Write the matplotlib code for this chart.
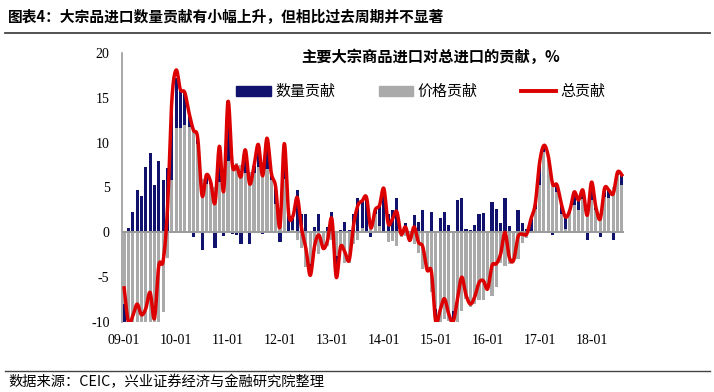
import numpy as np
import pandas as pd
import matplotlib
matplotlib.use("Agg")
import matplotlib.pyplot as plt
from matplotlib.patches import Patch
from matplotlib.lines import Line2D

# ---------------- data (monthly, 2009-01 .. 2018-08) ----------------
start_month = "2009-01"
quantity = [  # 数量贡献
    -2.3, 0.5, 2.3, 4.7, 4.0, 7.3, 8.9, 5.3, 7.9, 5.8, 7.2, 8.8,
    5.6, 4.3, 3.6, 1.4, -0.5, 0.6, -2.0, 1.0, 0.4, -1.7, 4.0, -0.4,
    6.7, -0.2, -0.3, -1.3, 2.6, -1.3, 0.8, 2.5, -0.2, 3.4, 0.8, 1.9,
    -1.1, 4.0, 1.9, 1.5, 4.7, 2.1, 2.1, -1.3, 0.6, 2.1, 0.2, 0.6,
    2.3, -2.4, 0.3, 1.2, 0.3, 2.1, 3.8, 3.0, 3.9, -0.5, 0.5, 2.3,
    4.9, 2.1, 2.5, 3.8, 0.3, 1.0, 0.2, 1.9, 1.2, 2.5, 0.2, 2.3,
    -1.5, 1.6, 2.3, 0.8, -1.2, 3.6, 3.8, 0.4, 0.3, 0.8, 2.0, 2.2,
    0.0, 3.4, 2.6, 1.0, 3.8, 0.7, 0.2, 2.5, 1.0, 0.4, 1.3, 0.6,
    2.5, 0.7, 0.2, -0.3, 0.8, 1.2, 1.3, 0.3, 1.5, 1.1, 1.0, -0.9,
    2.0, 0.3, -0.5, 1.0, 0.9, -0.8, 0.3, 1.1,
]
price = [  # 价格贡献
    -8.0, -10.6, -11.6, -12.5, -13.0, -14.0, -14.0, -14.0, -11.6, -8.9, -2.9, 5.8,
    11.6, 11.6, 12.0, 11.8, 11.6, 9.9, 5.9, 5.4, 5.4, 5.0, 5.6, 5.0,
    7.9, 7.7, 7.7, 7.5, 6.6, 6.7, 6.6, 7.3, 6.5, 7.1, 5.8, 3.2,
    1.7, 5.9, 0.2, 0.3, -0.8, -1.7, -3.9, -3.5, -2.1, -2.4, -2.0, -1.5,
    -0.8, -2.6, -1.9, -3.4, -3.4, -1.3, -0.8, 0.5, 0.0, 1.0, 2.0, 0.7,
    0.0, -1.1, -1.0, -1.5, -0.5, -0.4, -1.1, -1.3, -2.3, -4.1, -4.4, -6.7,
    -8.5, -10.3, -9.7, -9.9, -8.8, -11.1, -8.8, -7.4, -8.3, -8.0, -7.6, -7.6,
    -6.3, -7.1, -6.1, -3.4, -3.8, -3.5, -3.3, -3.0, -1.2, -0.6, 0.2, 2.6,
    5.3, 9.0, 8.3, 5.7, 4.5, 2.0, 0.4, 2.2, 3.0, 2.5, 3.7, 2.8,
    3.6, 2.5, 2.0, 3.9, 3.8, 5.1, 6.4, 5.3,
]
total = [  # 总贡献
    -6.2, -10.1, -9.3, -8.0, -9.2, -8.5, -6.7, -9.6, -3.7, -3.2, 2.5, 14.6,
    18.1, 15.9, 15.6, 13.3, 11.4, 10.5, 4.1, 6.4, 5.6, 3.3, 9.6, 4.6,
    14.6, 7.5, 7.4, 6.2, 9.2, 5.4, 7.4, 9.8, 6.3, 10.5, 6.6, 5.1,
    0.6, 9.9, 2.1, 1.8, 3.9, 0.4, -1.8, -4.8, -1.5, -0.3, -1.8, -0.9,
    1.5, -5.0, -1.6, -2.2, -3.1, 0.8, 3.0, 3.5, 3.9, 0.5, 2.5, 3.0,
    4.9, 1.0, 1.5, 2.3, -0.2, 0.6, -0.9, 0.6, -1.1, -1.6, -4.2, -4.4,
    -10.0, -8.7, -7.4, -9.1, -10.0, -7.5, -5.0, -7.0, -8.0, -7.2, -5.6, -5.4,
    -6.3, -3.7, -3.5, -2.4, 0.0, -2.8, -3.1, -0.5, -0.2, -0.2, 1.5, 3.2,
    7.8, 9.7, 8.5, 5.4, 5.3, 3.2, 1.7, 2.5, 4.5, 3.6, 4.7, 1.9,
    5.6, 2.8, 1.5, 4.9, 4.7, 4.3, 6.7, 6.4,
]
tick_labels = ["09-01", "10-01", "11-01", "12-01", "13-01",
               "14-01", "15-01", "16-01", "17-01", "18-01"]
legend_labels = ["数量贡献", "价格贡献", "总贡献"]
title = "图表4：大宗品进口数量贡献有小幅上升，但相比过去周期并不显著"
subtitle = "主要大宗商品进口对总进口的贡献，%"
source = "数据来源：CEIC，兴业证券经济与金融研究院整理"

# ---------------- styling ----------------
NAVY = "#11116e"
GRAY = "#aaaaaa"
RED = "#dd0000"
CJK = ["Noto Sans CJK SC", "DejaVu Sans"]
SERIF = ["Liberation Serif", "DejaVu Serif"]
plt.rcParams["font.family"] = CJK

W, H = 714, 392
fig = plt.figure(figsize=(W / 100, H / 100), dpi=100)
ax = fig.add_axes([122 / W, 1 - 322 / H, (624 - 122) / W, (322 - 53) / H])

months = pd.period_range(start_month, periods=len(quantity), freq="M")
x = np.arange(len(months))
q = np.array(quantity)
p = np.array(price)
t = np.array(total)

# stacked bars: price first, quantity stacked on the same side
ax.bar(x, p, width=0.72, color=GRAY, zorder=2, linewidth=0)
q_bottom = np.where(q >= 0, np.maximum(p, 0), np.minimum(p, 0))
ax.bar(x, q, bottom=q_bottom, width=0.72, color=NAVY, zorder=2, linewidth=0)

# smoothed total line (Bezier through points, like Excel "smoothed line")
def smooth(xs, ys, n=16):
    px = np.concatenate([[xs[0]], xs, [xs[-1]]])
    py = np.concatenate([[ys[0]], ys, [ys[-1]]])
    ox, oy = [], []
    for i in range(1, len(px) - 2):
        p0, p1, p2, p3 = (np.array([px[j], py[j]]) for j in (i - 1, i, i + 1, i + 2))
        c1 = p1 + (p2 - p0) / 6.0
        c2 = p2 - (p3 - p1) / 6.0
        s = np.linspace(0, 1, n, endpoint=(i == len(px) - 3))
        pts = ((1 - s) ** 3)[:, None] * p1 + (3 * (1 - s) ** 2 * s)[:, None] * c1 \
            + (3 * (1 - s) * s ** 2)[:, None] * c2 + (s ** 3)[:, None] * p2
        ox.append(pts[:, 0]); oy.append(pts[:, 1])
    return np.concatenate(ox), np.concatenate(oy)

sx, sy = smooth(x.astype(float), t)
ax.plot(sx, sy, color=RED, lw=2.5, zorder=4, solid_joinstyle="round")

ax.axhline(0, color="#9a9a9a", lw=1.4, zorder=3)

ax.set_ylim(-10, 20)
ax.set_xlim(-0.5, len(x) - 0.5)
ax.set_yticks(np.arange(-10, 21, 5))
ax.set_yticklabels([str(v) for v in range(-10, 21, 5)], fontfamily=SERIF, fontsize=10)
tick_pos = [i for i, m in enumerate(months) if m.month == 1]
ax.set_xticks(tick_pos)
ax.set_xticklabels(tick_labels, fontfamily=SERIF, fontsize=10)
ax.tick_params(axis="x", length=0, pad=9)
ax.tick_params(axis="y", length=0, pad=9)
for side in ("top", "right", "bottom"):
    ax.spines[side].set_visible(False)
ax.spines["left"].set_color("#9a9a9a")
ax.spines["left"].set_linewidth(1.2)

handles = [Patch(color=NAVY), Patch(color=GRAY), Line2D([0], [0], color=RED, lw=2.8)]
fig.legend(handles, legend_labels, ncol=3, loc="center left",
           bbox_to_anchor=(236 / W, 1 - 92 / H), frameon=False, fontsize=10.8,
           handlelength=2.3, handleheight=0.6, handletextpad=0.3,
           columnspacing=2.9, borderpad=0, borderaxespad=0)

fig.text(431 / W, 1 - 57 / H, subtitle, ha="center", va="center",
         fontsize=11.0, fontweight="bold")
fig.text(8 / W, 1 - 17 / H, title, ha="left", va="center",
         fontsize=10.6, fontweight="bold")
fig.add_artist(Line2D([5 / W, 710 / W], [1 - 33 / H, 1 - 33 / H],
                      color="#444444", lw=1.3))
fig.add_artist(Line2D([5 / W, 710 / W], [1 - 371 / H, 1 - 371 / H],
                      color="#444444", lw=1.0))
fig.text(8 / W, 1 - 382 / H, source, ha="left", va="center", fontsize=10.3)

fig.savefig("out.png", dpi=100)
